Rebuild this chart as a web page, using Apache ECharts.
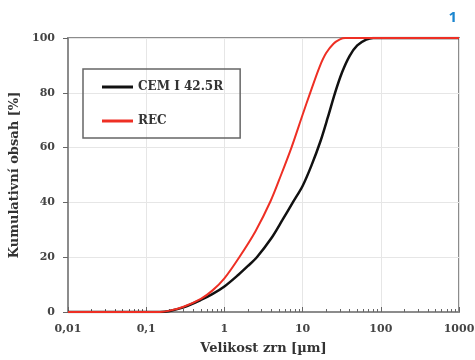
<!DOCTYPE html>
<html>
<head>
<meta charset="utf-8">
<script src="https://cdn.jsdelivr.net/npm/echarts@6/dist/echarts.min.js"></script>
<style>
  html, body { margin: 0; padding: 0; background: #fff; }
  #chart { width: 475px; height: 360px; }
</style>
</head>
<body>
<div id="chart"></div>
<script>
// grain size [um] and cumulative content [%]
const cemSize = [0.01, 0.1, 0.15, 0.2, 0.3, 0.5, 0.7, 1, 1.5, 2, 2.6, 4, 5.5, 7.5, 10, 13, 17, 21, 26, 32, 40, 50, 65, 80, 1000];
const cemValue = [0, 0, 0, 0.4, 1.7, 4.4, 6.5, 9.3, 13.5, 16.8, 20, 27, 33.5, 40, 46, 53.5, 62.5, 71, 80, 87.5, 93.5, 97.3, 99.4, 100, 100];
const recSize = [0.01, 0.1, 0.15, 0.2, 0.3, 0.5, 0.7, 1, 1.55, 2.5, 3.9, 5.3, 7.2, 10, 12.5, 16.5, 20, 25, 30, 35, 1000];
const recValue = [0, 0, 0, 0.5, 1.9, 4.8, 7.8, 12.3, 20, 29.5, 40.5, 50, 60, 72, 80, 89.5, 94.5, 98, 99.5, 100, 100];

const xTickLabels = { 0.01: "0,01", 0.1: "0,1", 1: "1", 10: "10", 100: "100", 1000: "1000" };

// 2..9 inside each decade
const minorTicks = [];
[0.01, 0.1, 1, 10, 100].forEach((d) => {
  for (let k = 2; k <= 9; k++) minorTicks.push(+(d * k).toPrecision(3));
});

const font = "'DejaVu Serif', 'Liberation Serif', serif";
const axisGray = "#8c8c8c";
const labelStyle = { color: "#444", fontFamily: font, fontWeight: "bold", fontSize: 11 };

const chart = echarts.init(document.getElementById("chart"), null, { renderer: "canvas" });

chart.setOption({
  animation: false,
  grid: {
    left: 68, right: 16, top: 38, bottom: 48,
    outerBoundsMode: "none",
    show: true, borderColor: axisGray, borderWidth: 2
  },
  graphic: [{
    type: "text", right: 18, top: 10,
    style: { text: "1", fill: "#1b86cf", font: "bold 15px 'Open Sans', sans-serif" }
  }],
  legend: {
    orient: "vertical",
    left: 83, top: 69,
    padding: [11, 17, 10, 19],
    itemGap: 20,
    itemWidth: 31,
    itemHeight: 3,
    icon: "rect",
    borderColor: "#666",
    borderWidth: 1.5,
    textStyle: { color: "#333", fontFamily: font, fontWeight: "bold", fontSize: 12, lineHeight: 14 },
    data: ["CEM I 42.5R", "REC"]
  },
  xAxis: [
    {
      type: "log", logBase: 10, min: 0.01, max: 1000,
      name: "Velikost zrn [µm]", nameLocation: "middle", nameGap: 30,
      nameTextStyle: { color: "#333", fontFamily: font, fontWeight: "bold", fontSize: 13 },
      axisLine: { lineStyle: { color: axisGray, width: 2 } },
      axisTick: { inside: true, length: 5, lineStyle: { color: "#666" } },
      axisLabel: Object.assign({ margin: 12, formatter: (v) => xTickLabels[v] ?? String(v) }, labelStyle),
      splitLine: { show: true, lineStyle: { color: "#e6e6e6", width: 1 } }
    },
    {
      type: "log", logBase: 10, min: 0.01, max: 1000, position: "bottom",
      axisLine: { show: false },
      axisLabel: { show: false },
      splitLine: { show: false },
      axisTick: { show: true, inside: true, length: 3, customValues: minorTicks, lineStyle: { color: "#666" } }
    }
  ],
  yAxis: {
    type: "value", min: 0, max: 100, interval: 20,
    name: "Kumulativní obsah [%]", nameLocation: "middle", nameGap: 46,
    nameTextStyle: { color: "#333", fontFamily: font, fontWeight: "bold", fontSize: 13 },
    axisLine: { show: true, lineStyle: { color: axisGray, width: 2 } },
    axisTick: { show: true, length: 5, lineStyle: { color: "#666" } },
    axisLabel: Object.assign({ margin: 13 }, labelStyle),
    splitLine: { lineStyle: { color: "#e6e6e6", width: 1 } }
  },
  series: [
    {
      name: "CEM I 42.5R", type: "line",
      data: cemSize.map((x, i) => [x, cemValue[i]]),
      symbol: "none", smooth: 0.3,
      lineStyle: { color: "#111", width: 2.5 },
      itemStyle: { color: "#111" }
    },
    {
      name: "REC", type: "line",
      data: recSize.map((x, i) => [x, recValue[i]]),
      symbol: "none", smooth: 0.3,
      lineStyle: { color: "#ee2f24", width: 2 },
      itemStyle: { color: "#ee2f24" }
    }
  ]
});
</script>
</body>
</html>
